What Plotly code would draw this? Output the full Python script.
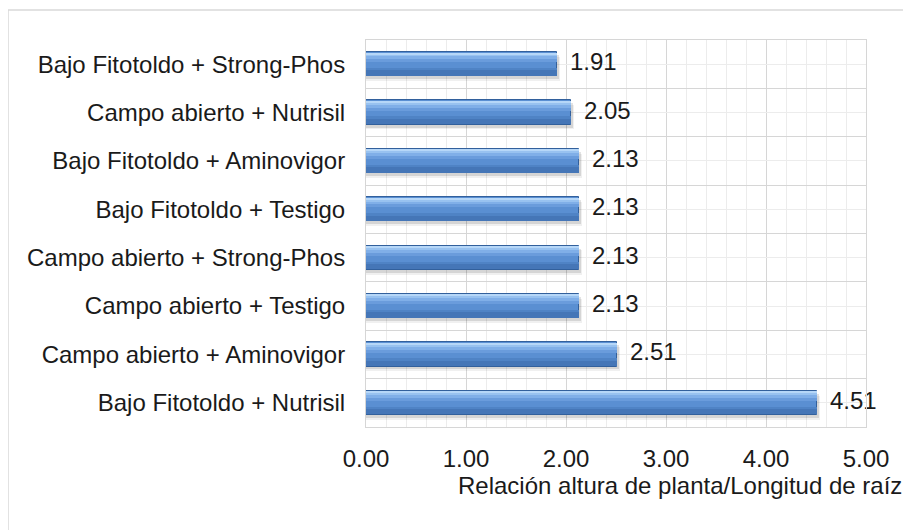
import plotly.graph_objects as go

categories = [
    "Bajo Fitotoldo + Nutrisil",
    "Campo abierto + Aminovigor",
    "Campo abierto + Testigo",
    "Campo abierto + Strong-Phos",
    "Bajo Fitotoldo + Testigo",
    "Bajo Fitotoldo + Aminovigor",
    "Campo abierto + Nutrisil",
    "Bajo Fitotoldo + Strong-Phos",
]
values = [4.51, 2.51, 2.13, 2.13, 2.13, 2.13, 2.05, 1.91]
labels = [f"{v:.2f}" for v in values]
x_ticks = [0, 1, 2, 3, 4, 5]
x_ticktext = [f"{t:.2f}" for t in x_ticks]
x_title = "Relación altura de planta/Longitud de raíz"

FONT = "Liberation Sans, Arial, sans-serif"
TXT = "#1a1a1a"
FS = 24
W = 0.5

fig = go.Figure()


def layer(width, offset, color, line=None, xshift=0.0):
    fig.add_trace(go.Bar(
        y=categories, x=[v + xshift for v in values], orientation="h",
        width=width, offset=offset,
        marker=dict(color=color, line=line or dict(width=0)),
        hoverinfo="skip", showlegend=False,
    ))


# soft shadow
layer(W, -W / 2 - 0.10, "rgba(0,0,0,0.06)", xshift=0.03)
layer(W, -W / 2 - 0.06, "rgba(0,0,0,0.11)", xshift=0.015)
# main body
layer(W, -W / 2, "#5a8fd2", dict(color="#32609c", width=1))
# gradient bands
layer(0.12, -W / 2 + 0.01, "#4576b7")
layer(0.05, -0.13, "#4f83c5")
layer(0.06, 0.04, "#6a9cdc")
layer(0.06, 0.10, "#80afe8")
layer(0.05, 0.16, "#98c2f0")
layer(0.03, 0.21, "#b6d7f8")

# data labels
fig.add_trace(go.Scatter(
    y=categories, x=[v + 0.13 for v in values], mode="text",
    text=labels, textposition="middle right",
    textfont=dict(family=FONT, size=FS, color=TXT),
    hoverinfo="skip", showlegend=False, cliponaxis=False,
))

# secondary axis for minor grid lines at category centres
fig.add_trace(go.Scatter(
    y=categories, x=[None] * len(categories), yaxis="y2",
    mode="markers", hoverinfo="skip", showlegend=False,
))

fig.update_layout(
    width=903, height=522,
    margin=dict(l=358, r=45, t=32, b=103),
    paper_bgcolor="white", plot_bgcolor="white",
    barmode="overlay", bargap=0,
    font=dict(family=FONT, size=FS, color=TXT),
    xaxis=dict(
        range=[0, 5], tickvals=x_ticks, ticktext=x_ticktext,
        showgrid=True, gridcolor="#d6d6d6", gridwidth=1,
        minor=dict(dtick=0.2, showgrid=True, gridcolor="#ececec", gridwidth=1),
        zeroline=False, showline=True, linecolor="#d6d6d6", mirror=True,
        ticks="", tickfont=dict(size=FS, color=TXT),
        ticklabelstandoff=10, automargin=False,
    ),
    yaxis=dict(
        categoryorder="array", categoryarray=categories,
        tickson="boundaries", showgrid=True, gridcolor="#d6d6d6",
        showline=True, linecolor="#d6d6d6", mirror=True,
        ticks="", ticklabelstandoff=15,
        tickfont=dict(size=FS, color=TXT), automargin=False,
    ),
    yaxis2=dict(
        overlaying="y", matches="y", categoryorder="array",
        categoryarray=categories, showgrid=True, gridcolor="#ececec",
        showticklabels=False, ticks="", side="right",
    ),
    annotations=[dict(
        text=x_title, xref="paper", yref="paper", x=0.628, y=-0.151,
        xanchor="center", yanchor="middle", showarrow=False,
        font=dict(family=FONT, size=FS, color=TXT),
    )],
    shapes=[dict(
        type="rect", xref="paper", yref="paper",
        x0=-0.716, x1=1.2, y0=-0.4, y1=1.0775,
        line=dict(color="#d9d9d9", width=1.5), layer="below",
    )],
)

fig.write_html("out.html")
